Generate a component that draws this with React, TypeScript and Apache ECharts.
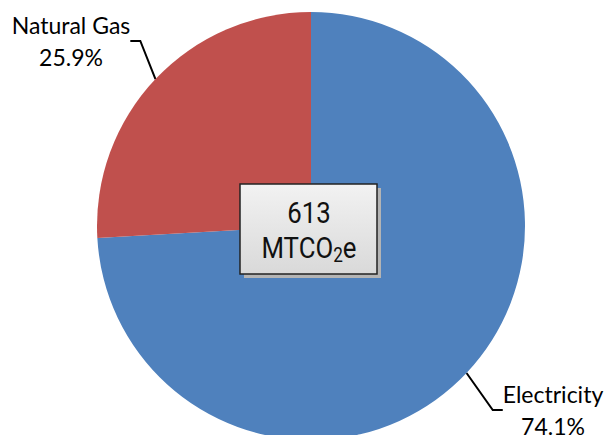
import React, { useEffect, useRef } from "react";
import * as echarts from "echarts";

const categories = ["Electricity", "Natural Gas"];
const shares = [74.1, 25.9];
const colors = ["#4F81BD", "#C0504D"];
const totalValue = "613";
const totalUnit = "MTCO";
const totalSub = "2";
const totalTail = "e";

const centerFont = "Roboto";

function measure(text: string, size: number) {
  const c = document.createElement("canvas").getContext("2d")!;
  c.font = `${size}px ${centerFont}`;
  return c.measureText(text).width;
}

export default function App() {
  const ref = useRef<HTMLDivElement>(null);
  useEffect(() => {
    document.body.style.margin = "0";
    const chart = echarts.init(ref.current!, null, { renderer: "svg" });
    const data = categories.map((c, i) => ({ name: c, value: shares[i], itemStyle: { color: colors[i] } }));
    const cx = 309;
    const w1 = measure(totalUnit, 30);
    const w2 = measure(totalSub, 20);
    const w3 = measure(totalTail, 30);
    const x0 = cx - (w1 + w2 + w3) / 2;
    chart.setOption({
      animation: false,
      backgroundColor: "#ffffff",
      series: [
        {
          type: "pie",
          center: [311, 226],
          radius: [0, 214],
          startAngle: 90,
          clockwise: true,
          data,
          label: {
            show: true,
            formatter: (p: any) => `${p.name}\n${p.value.toFixed(1)}%`,
            fontFamily: "Lato",
            fontSize: 23,
            lineHeight: 32,
            color: "#000",
            align: "center",
          },
          labelLine: {
            show: true,
            length: 10,
            length2: 10,
            lineStyle: { color: "#000", width: 2 },
          },
          labelLayout: (p: any) => {
            if (p.dataIndex === 1) {
              return { x: 71, y: 41, align: "center", verticalAlign: "middle" };
            }
            return { x: 553, y: 410, align: "center", verticalAlign: "middle" };
          },
          emphasis: { disabled: true },
        },
      ],
      graphic: [
        {
          type: "group",
          z: 100,
          children: [
            {
              type: "rect",
              z: 100,
              shape: { x: 244, y: 188, width: 137, height: 90 },
              style: { fill: "#b4b4b4" },
            },
            {
              type: "rect",
              z: 101,
              shape: { x: 240, y: 184, width: 137, height: 90 },
              style: {
                fill: new echarts.graphic.LinearGradient(0, 0, 0, 1, [
                  { offset: 0, color: "#f2f2f2" },
                  { offset: 1, color: "#d9d9d9" },
                ]),
                stroke: "#222",
                lineWidth: 1.5,
              },
            },
            {
              type: "group",
              z: 102,
              x: cx,
              scaleX: 0.86,
              children: [
                {
                  type: "text",
                  z: 102,
                  x: 0,
                  y: 213,
                  style: {
                    text: totalValue,
                    fontFamily: centerFont,
                    fontSize: 30,
                    fill: "#111",
                    align: "center",
                    verticalAlign: "middle",
                  },
                },
                {
                  type: "text",
                  z: 102,
                  x: x0 - cx,
                  y: 247.5,
                  style: {
                    text: totalUnit,
                    fontFamily: centerFont,
                    fontSize: 30,
                    fill: "#111",
                    align: "left",
                    verticalAlign: "middle",
                  },
                },
                {
                  type: "text",
                  z: 102,
                  x: x0 - cx + w1,
                  y: 255.5,
                  style: {
                    text: totalSub,
                    fontFamily: centerFont,
                    fontSize: 20,
                    fill: "#111",
                    align: "left",
                    verticalAlign: "middle",
                  },
                },
                {
                  type: "text",
                  z: 102,
                  x: x0 - cx + w1 + w2,
                  y: 247.5,
                  style: {
                    text: totalTail,
                    fontFamily: centerFont,
                    fontSize: 30,
                    fill: "#111",
                    align: "left",
                    verticalAlign: "middle",
                  },
                },
              ],
            },
          ],
        },
      ],
    });
    return () => chart.dispose();
  }, []);
  return <div ref={ref} style={{ width: 608, height: 435 }} />;
}
